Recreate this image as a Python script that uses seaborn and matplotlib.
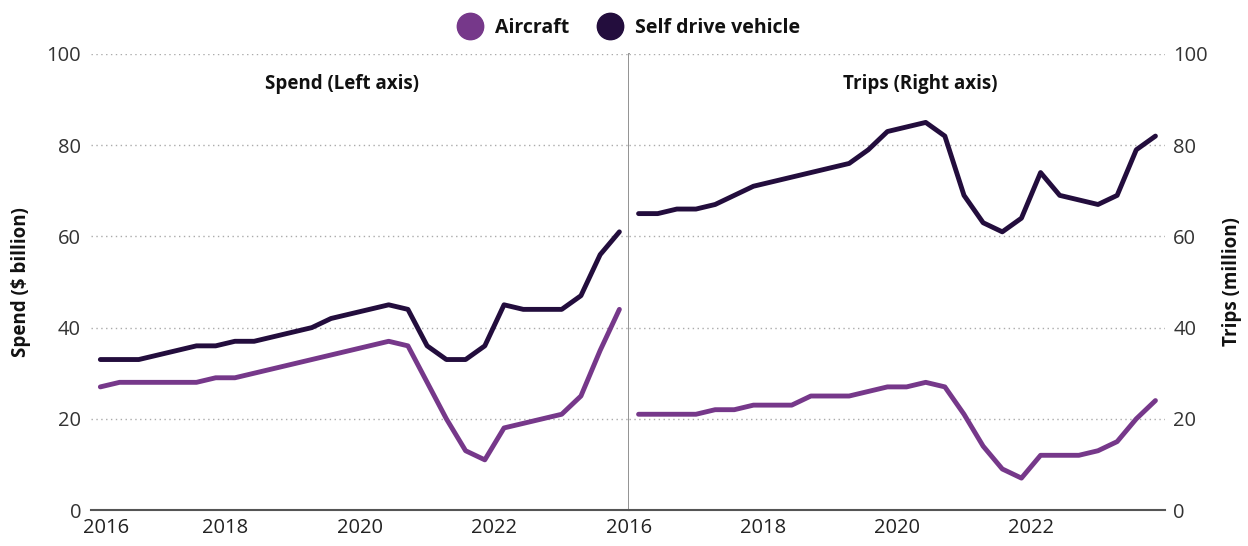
import numpy as np
import pandas as pd
import matplotlib
matplotlib.use("Agg")
import matplotlib.pyplot as plt
import matplotlib.transforms as mtransforms
from matplotlib.lines import Line2D
import seaborn as sns

# Quarterly series, 28 periods per panel
aircraft_spend = [27, 28, 28, 28, 28, 28, 29, 29, 30, 31, 32, 33, 34, 35,
                  36, 37, 36, 28, 20, 13, 11, 18, 19, 20, 21, 25, 35, 44]
selfdrive_spend = [33, 33, 33, 34, 35, 36, 36, 37, 37, 38, 39, 40, 42, 43,
                   44, 45, 44, 36, 33, 33, 36, 45, 44, 44, 44, 47, 56, 61]
aircraft_trips = [21, 21, 21, 21, 22, 22, 23, 23, 23, 25, 25, 25, 26, 27,
                  27, 28, 27, 21, 14, 9, 7, 12, 12, 12, 13, 15, 20, 24]
selfdrive_trips = [65, 65, 66, 66, 67, 69, 71, 72, 73, 74, 75, 76, 79, 83,
                   84, 85, 82, 69, 63, 61, 64, 74, 69, 68, 67, 69, 79, 82]

year_labels = ["2016", "2018", "2020", "2022"]
y_ticks = [0, 20, 40, 60, 80, 100]

AIRCRAFT = "#76388A"
SELFDRIVE = "#230D3D"

sns.set_theme(style="white")
plt.rcParams["font.family"] = ["Open Sans", "DejaVu Sans"]

period = np.arange(len(aircraft_spend))
spend_df = pd.DataFrame({"period": period, "Aircraft": aircraft_spend,
                         "Self drive vehicle": selfdrive_spend})
trips_df = pd.DataFrame({"period": period, "Aircraft": aircraft_trips,
                         "Self drive vehicle": selfdrive_trips})

fig = plt.figure(figsize=(12.48, 5.46), dpi=100)
ax1 = fig.add_axes([0.0727, 0.0659, 0.4313, 0.8352])
ax2 = fig.add_axes([0.504, 0.0659, 0.4295, 0.8352])

line_kw = dict(linewidth=3.5, solid_joinstyle="round", solid_capstyle="round")

for ax, df in [(ax1, spend_df), (ax2, trips_df)]:
    sns.lineplot(data=df, x="period", y="Aircraft", ax=ax, color=AIRCRAFT, **line_kw)
    sns.lineplot(data=df, x="period", y="Self drive vehicle", ax=ax, color=SELFDRIVE, **line_kw)
    ax.set_xlim(-0.5, len(period) - 0.5)
    ax.set_ylim(0, 100)
    ax.set_yticks(y_ticks)
    ax.set_xticks([-0.5, 6.5, 13.5, 20.5])
    ax.set_xticklabels(year_labels)
    ax.xaxis.get_major_ticks()[0].tick1line.set_visible(False)
    ax.tick_params(axis="x", direction="in", length=8, width=1.3, color="#555555",
                   labelsize=14.5, labelcolor="#222222", pad=6)
    ax.tick_params(axis="y", length=0, labelsize=14.5, labelcolor="#333333")
    ax.grid(axis="y", linestyle=(0, (1, 2.5)), color="#aaaaaa", linewidth=1)
    ax.grid(axis="x", visible=False)
    for s in ["top", "left", "right"]:
        ax.spines[s].set_visible(False)
    ax.spines["bottom"].set_color("#555555")
    ax.spines["bottom"].set_linewidth(1.5)
    ax.set_xlabel("")

# divider between panels
ax1.spines["right"].set_visible(True)
ax1.spines["right"].set_color("#8a8a8a")
ax1.spines["right"].set_linewidth(1.3)

ax1.tick_params(axis="y", pad=7)
ax1.set_ylabel("Spend ($ billion)", fontsize=13.5, fontweight="bold", color="#111111", labelpad=11)

ax2.yaxis.tick_right()
ax2.yaxis.set_label_position("right")
ax2.tick_params(axis="y", pad=6)
ax2.set_ylabel("Trips (million)", fontsize=13.5, fontweight="bold", color="#111111", labelpad=10)

# nudge the first year label off the left edge
lbl = ax1.get_xticklabels()[0]
lbl.set_transform(lbl.get_transform() + mtransforms.ScaledTranslation(0.15, 0, fig.dpi_scale_trans))

ax1.text(0.466, 0.934, "Spend (Left axis)", transform=ax1.transAxes, ha="center", va="center",
         fontsize=13.5, fontweight="bold", color="#111111")
ax2.text(0.544, 0.934, "Trips (Right axis)", transform=ax2.transAxes, ha="center", va="center",
         fontsize=13.5, fontweight="bold", color="#111111")

handles = [Line2D([], [], marker="o", linestyle="", markersize=19, color=AIRCRAFT),
           Line2D([], [], marker="o", linestyle="", markersize=19, color=SELFDRIVE)]
fig.legend(handles, ["Aircraft", "Self drive vehicle"], loc="center", ncol=2,
           bbox_to_anchor=(0.501, 0.949), frameon=False, handletextpad=0.3,
           columnspacing=1.1, prop={"size": 14, "weight": "bold"}, labelcolor="#111111")

fig.savefig("out.png", dpi=100)
